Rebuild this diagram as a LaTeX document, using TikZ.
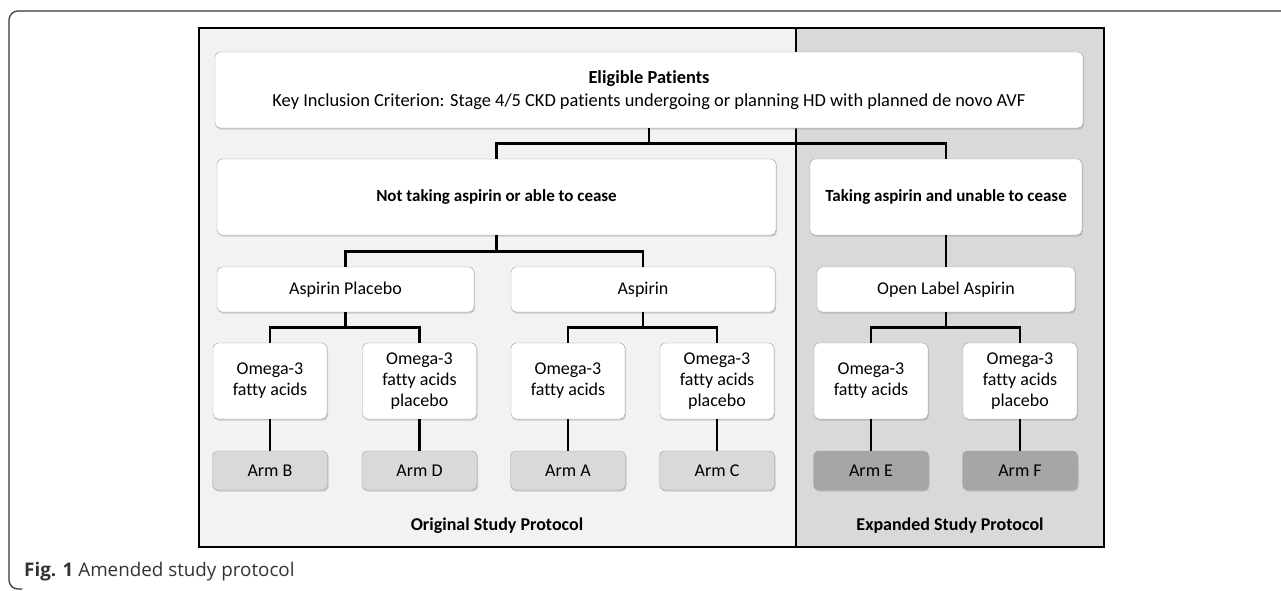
\documentclass[tikz,border=0pt]{standalone}
\usepackage{fontspec}
\setmainfont{Carlito}[Ligatures=NoCommon]
\newfontfamily\capfont{Open Sans}
\usetikzlibrary{shadows}
\definecolor{panelorig}{HTML}{F2F2F2}
\definecolor{panelexp}{HTML}{D9D9D9}
\definecolor{armlight}{HTML}{D9D9D9}
\definecolor{armdark}{HTML}{A6A6A6}
\definecolor{boxline}{HTML}{A0A0A0}

\tikzset{
  box/.style={draw=boxline, fill=white, rounded corners=5pt, align=center,
    inner sep=0pt, font=\fontsize{18}{21}\selectfont,
    drop shadow={opacity=0.35, shadow xshift=1pt, shadow yshift=-1.5pt}},
  groupbox/.style={box, minimum height=76pt, font=\fontsize{17}{20}\selectfont\bfseries},
  armbox/.style={box, fill=armlight, minimum width=115pt, minimum height=39pt},
  armboxdark/.style={armbox, fill=armdark},
  omegabox/.style={box, minimum width=114pt, minimum height=76pt},
  treatbox/.style={box, minimum height=45pt},
  link/.style={line width=2.8pt, black},
  panellabel/.style={font=\fontsize{18}{21}\selectfont\bfseries}
}

\begin{document}
\begin{tikzpicture}[x=1pt, y=-1pt]
  \useasboundingbox (0,0) rectangle (1281,590);

  % outer frame
  \draw[line width=1.2pt, black!80, rounded corners=9pt] (1282,11) -- (9,11) -- (9,589) -- (22,589);

  % protocol panels
  \filldraw[fill=panelorig, draw=black, line width=2.4pt] (199,28) rectangle (796,547);
  \filldraw[fill=panelexp, draw=black, line width=2.4pt] (796,28) rectangle (1104,547);

  % top level
  \node[box, minimum width=868pt, minimum height=76pt, font=\fontsize{18.4}{21}\selectfont] (elig) at (649,90)
    {\textbf{Eligible Patients}\\[2pt]Key Inclusion Criterion: Stage 4/5 CKD patients undergoing or planning HD with planned de novo AVF};

  \node[groupbox, minimum width=559pt] (nottake) at (496.5,197) {Not taking aspirin or able to cease};
  \node[groupbox, minimum width=272pt] (taking) at (946,197) {Taking aspirin and unable to cease};

  % aspirin level
  \node[treatbox, minimum width=257pt] (aspplac) at (345.5,289.5) {Aspirin Placebo};
  \node[treatbox, minimum width=264pt] (asp) at (643,289.5) {Aspirin};
  \node[treatbox, minimum width=258pt] (openasp) at (946,289.5) {Open Label Aspirin};

  % omega-3 level
  \node[omegabox] (omB) at (270,381) {Omega-3\\fatty acids};
  \node[omegabox] (omD) at (419.5,381) {Omega-3\\fatty acids\\placebo};
  \node[omegabox] (omA) at (568,381) {Omega-3\\fatty acids};
  \node[omegabox] (omC) at (717,381) {Omega-3\\fatty acids\\placebo};
  \node[omegabox] (omE) at (871,381) {Omega-3\\fatty acids};
  \node[omegabox] (omF) at (1020,381) {Omega-3\\fatty acids\\placebo};

  % arms
  \node[armbox] (armB) at (270,470.5) {Arm B};
  \node[armbox] (armD) at (419.5,470.5) {Arm D};
  \node[armbox] (armA) at (568,470.5) {Arm A};
  \node[armbox] (armC) at (717,470.5) {Arm C};
  \node[armboxdark] (armE) at (871,470.5) {Arm E};
  \node[armboxdark] (armF) at (1020,470.5) {Arm F};

  \node[panellabel] (origlbl) at (497,526) {Original Study Protocol};
  \node[panellabel] (explbl) at (950,526) {Expanded Study Protocol};

  % connectors
  \draw[link] (elig.south) -- ++(0,15.5) -| (nottake.north);
  \draw[link] (elig.south) -- ++(0,15.5) -| (taking.north);
  \draw[link] (nottake.south) -- ++(0,16) -| (aspplac.north);
  \draw[link] (nottake.south) -- ++(0,16) -| (asp.north);
  \draw[link] (taking.south) -- (openasp.north);
  \draw[link] (aspplac.south) -- ++(0,15) -| (omB.north);
  \draw[link] (aspplac.south) -- ++(0,15) -| (omD.north);
  \draw[link] (asp.south) -- ++(0,15) -| (omA.north);
  \draw[link] (asp.south) -- ++(0,15) -| (omC.north);
  \draw[link] (openasp.south) -- ++(0,15) -| (omE.north);
  \draw[link] (openasp.south) -- ++(0,15) -| (omF.north);
  \draw[link] (omB) -- (armB);
  \draw[link] (omD) -- (armD);
  \draw[link] (omA) -- (armA);
  \draw[link] (omC) -- (armC);
  \draw[link] (omE) -- (armE);
  \draw[link] (omF) -- (armF);

  % caption
  \node[anchor=west, inner sep=0pt, font=\capfont\fontsize{18.8}{20}\selectfont, text=black!80] (caption) at (24,572)
    {\textbf{Fig. 1} Amended study protocol};
\end{tikzpicture}
\end{document}
